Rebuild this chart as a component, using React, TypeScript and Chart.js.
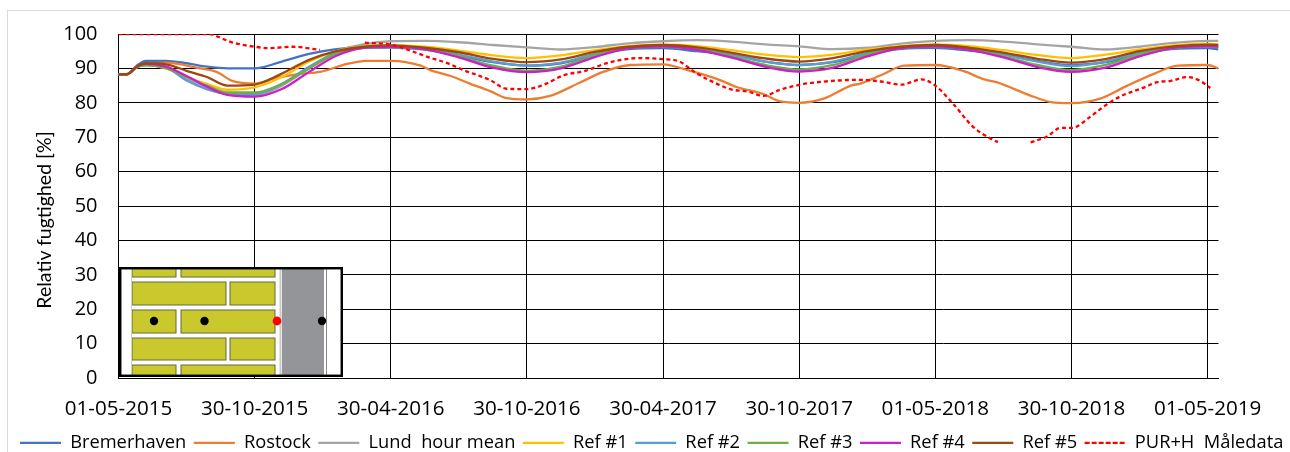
import React, { useEffect, useRef } from "react";
import { Chart, registerables } from "chart.js";

Chart.register(...registerables);

const FONT = '"Open Sans", sans-serif';

const tickLabels = ["01-05-2015", "30-10-2015", "30-04-2016", "30-10-2016", "30-04-2017", "30-10-2017", "01-05-2018", "30-10-2018", "01-05-2019"];

const T = [0, 0.06, 0.14, 0.2, 0.35, 0.5, 0.65, 0.8, 1, 1.2, 1.4, 1.6, 1.8, 2, 2.25, 2.5, 2.75, 3, 3.25, 3.5, 3.75, 4, 4.25, 4.5, 4.75, 5, 5.25, 5.5, 5.75, 6, 6.25, 6.5, 6.75, 7, 7.25, 7.5, 7.75, 8, 8.08];

const bremerhaven = [88.3, 88.3, 91, 92.2, 92.2, 91.5, 90.5, 90, 90, 92, 94.2, 95.6, 96.2, 96.1, 95.5, 93.8, 91.8, 90.8, 91.5, 94, 95.6, 95.9, 95, 94, 92, 91, 91.8, 94.2, 95.7, 96, 95.2, 94.2, 92.2, 91, 91.8, 94, 95.7, 95.9, 95.5];
const lund = [88.3, 88.3, 90.5, 91, 90.5, 87, 84, 82.5, 82, 85, 90, 95, 97, 97.9, 98, 97.6, 96.8, 96.1, 95.5, 96.2, 97.3, 97.9, 98.2, 97.8, 97, 96.4, 95.6, 96, 97.2, 98, 98.2, 97.8, 97, 96.3, 95.5, 96.3, 97.4, 98, 98];
const ref1 = [88.3, 88.3, 90.5, 91, 90, 87.5, 85.5, 83.8, 84.5, 87.5, 92, 95, 96.4, 96.7, 96.3, 95.2, 93.8, 93, 93.8, 95.3, 96.5, 96.9, 96.5, 95.3, 94, 93.3, 94, 95.5, 96.5, 97, 96.5, 95.3, 93.9, 93, 94, 95.5, 96.7, 97.2, 97];
const ref2 = [88.3, 88.3, 90.5, 91, 90.3, 86.5, 84, 82.7, 82.5, 85.5, 90.5, 94.5, 96, 96, 95.8, 94, 92, 90.8, 91.7, 94.2, 96, 96.3, 95.6, 94, 92, 91, 92, 94.5, 96, 96.3, 95.6, 94, 92, 90.7, 92, 94.6, 96, 96.4, 96.2];
const ref3 = [88.3, 88.3, 90.5, 91, 90, 87.5, 85, 83, 83, 85.5, 90, 94.3, 96, 96.3, 95.7, 93.5, 90.8, 89.3, 90.5, 93.8, 96, 96.4, 95.5, 93.5, 91, 89.7, 91, 94, 96, 96.4, 95.5, 93.5, 91, 89.5, 91, 94, 96, 96.4, 96.3];
const ref4 = [88.3, 88.3, 90.7, 91.3, 90.5, 87.8, 84.7, 82.3, 81.8, 84, 89, 93.7, 96, 96.3, 95.6, 93.2, 90.2, 88.9, 90, 93.3, 95.9, 96.4, 95.4, 93.2, 90.5, 89.1, 90.2, 93.5, 95.9, 96.4, 95.4, 93.2, 90.4, 89, 90.2, 93.5, 96, 96.5, 96.4];
const ref5 = [88.3, 88.3, 90.7, 91.5, 91.2, 89.3, 87.5, 85, 85.3, 88.5, 92.5, 95, 96.3, 96.7, 96, 94.7, 92.8, 91.8, 92.6, 94.8, 96.3, 96.8, 96.1, 94.6, 92.9, 92, 93, 95, 96.3, 96.8, 96, 94.6, 92.8, 91.7, 92.7, 95, 96.4, 96.9, 96.8];

const rostockT = [0, 0.06, 0.14, 0.2, 0.35, 0.6, 0.72, 0.84, 1, 1.14, 1.33, 1.48, 1.68, 1.82, 2, 2.22, 2.29, 2.44, 2.58, 2.73, 2.85, 3, 3.17, 3.39, 3.56, 3.76, 4, 4.18, 4.4, 4.54, 4.74, 4.86, 5, 5.18, 5.38, 5.45, 5.6, 5.77, 6, 6.21, 6.36, 6.45, 6.68, 6.85, 7, 7.21, 7.41, 7.61, 7.78, 8, 8.08];
const rostock = [88.3, 88.3, 90.5, 91.2, 91.7, 90, 89, 86.3, 85.6, 87, 88.4, 89, 91.3, 92.2, 92.2, 90.8, 89.5, 87.8, 85.6, 83.4, 81.4, 81, 82, 85.9, 89, 91, 91.2, 89.5, 86.9, 84.6, 82.5, 80.4, 80, 81.2, 85, 85.6, 88, 90.8, 91, 89.2, 86.8, 86, 82.4, 80.2, 79.9, 81.2, 85, 88.5, 90.8, 91, 90];

const purT = [0, 0.65, 0.84, 1, 1.11, 1.28, 1.48, 1.49, 1.81, 2, 2.29, 2.41, 2.535, 2.73, 2.85, 3, 3.12, 3.27, 3.42, 3.61, 3.83, 4, 4.12, 4.23, 4.37, 4.5, 4.62, 4.74, 4.86, 5.01, 5.11, 5.45, 5.6, 5.75, 5.9, 6.0, 6.14, 6.27, 6.41, 6.46, 6.5, 6.7, 6.82, 6.92, 7, 7.14, 7.24, 7.36, 7.53, 7.63, 7.73, 7.85, 7.94, 8.02];
const pur = [100, 100, 97.5, 96.3, 95.9, 96.3, 95.4, null, 97.5, 96.9, 93.1, 91.6, 89.5, 86.6, 84.1, 84, 85.2, 88, 89.2, 91.8, 93, 92.7, 92, 89, 86, 83.9, 83.3, 82, 83.8, 85.3, 85.9, 86.7, 86.2, 85.3, 86.8, 85, 79.3, 73.3, 69.5, 68.6, null, 68.5, 70.2, 72.7, 72.7, 76, 79, 81.9, 84.4, 86, 86.4, 87.5, 86.5, 84.3];

const zip = (xs: number[], ys: (number | null)[]) => xs.map((x, i) => ({ x, y: ys[i] }));

const seriesList = [
  { label: "Bremerhaven", xs: T, ys: bremerhaven, color: "#4472C4" },
  { label: "Rostock", xs: rostockT, ys: rostock, color: "#ED7D31" },
  { label: "Lund  hour mean", xs: T, ys: lund, color: "#A5A5A5" },
  { label: "Ref #1", xs: T, ys: ref1, color: "#FFC000" },
  { label: "Ref #2", xs: T, ys: ref2, color: "#5B9BD5" },
  { label: "Ref #3", xs: T, ys: ref3, color: "#70AD47" },
  { label: "Ref #4", xs: T, ys: ref4, color: "#CC1FCC" },
  { label: "Ref #5", xs: T, ys: ref5, color: "#9E480E" },
  { label: "PUR+H  Måledata", xs: purT, ys: pur, color: "#FF0000", dash: [4, 3] },
];

const BRICK = "#C9C92E";

function Brick({ x, y, w, h }: { x: number; y: number; w: number; h: number }) {
  return <rect x={x} y={y} width={w} height={h} fill={BRICK} stroke="#66663c" strokeWidth={1} />;
}

function Inset() {
  return (
    <svg width={224} height={110} viewBox="119 267 224 110" style={{ position: "absolute", left: 119, top: 267, display: "block" }}>
      <rect x={119} y={267} width={224} height={110} fill="#fff" />
      <Brick x={132} y={266} w={44} h={11} />
      <Brick x={181} y={266} w={94} h={11} />
      <Brick x={132} y={282} w={94} h={23} />
      <Brick x={230} y={282} w={45} h={23} />
      <Brick x={132} y={310} w={44} h={23} />
      <Brick x={181} y={310} w={94} h={23} />
      <Brick x={132} y={338} w={94} h={22} />
      <Brick x={230} y={338} w={45} h={22} />
      <Brick x={132} y={365} w={44} h={13} />
      <Brick x={181} y={365} w={94} h={13} />
      <line x1={131.5} y1={267} x2={131.5} y2={377} stroke="#d0d0d0" />
      <line x1={280.5} y1={267} x2={280.5} y2={377} stroke="#c8c8c8" strokeWidth={2} />
      <rect x={282} y={267} width={42} height={110} fill="#939598" />
      <line x1={326.5} y1={267} x2={326.5} y2={377} stroke="#8a8a8a" />
      <circle cx={154} cy={321} r={4.2} fill="#000" />
      <circle cx={204.5} cy={321} r={4.2} fill="#000" />
      <circle cx={277} cy={321} r={4.4} fill="#FF0000" />
      <circle cx={322} cy={321} r={4.2} fill="#000" />
      <rect x={120.2} y={268.2} width={221.6} height={107.6} fill="none" stroke="#000" strokeWidth={2.5} />
    </svg>
  );
}

export default function App() {
  const ref = useRef<HTMLCanvasElement>(null);
  useEffect(() => {
    const chart = new Chart(ref.current!, {
      type: "line",
      data: {
        datasets: seriesList.map((s, i) => ({
          label: s.label,
          data: zip(s.xs, s.ys),
          borderColor: s.color,
          backgroundColor: s.color,
          borderWidth: 2.3,
          borderDash: s.dash || [],
          pointRadius: 0,
          cubicInterpolationMode: "monotone",
          spanGaps: false,
          order: seriesList.length - i,
        })),
      },
      options: {
        animation: false,
        responsive: false,
        parsing: { xAxisKey: "x", yAxisKey: "y" },
        layout: { padding: { left: 12.5, right: -15, top: 34, bottom: -10 } },
        plugins: {
          tooltip: { enabled: false },
          title: { display: false },
          legend: {
            position: "bottom",
            align: "start",
            labels: {
              boxWidth: 41,
              boxHeight: 0,
              padding: 7.5,
              color: "#000",
              font: { family: FONT, size: 18.3 },
              sort: (a: any, b: any) => a.datasetIndex - b.datasetIndex,
            },
          },
        },
        scales: {
          x: {
            type: "linear",
            min: 0,
            max: 8.08,
            afterFit: (s: any) => { s.height = 48; },
            grid: { color: "#000", lineWidth: 1, drawTicks: false },
            border: { color: "#000", width: 1 },
            ticks: {
              stepSize: 1,
              includeBounds: false,
              autoSkip: false,
              maxRotation: 0,
              padding: 19,
              color: "#000",
              font: { family: FONT, size: 20.6 },
              callback: (v: any) => tickLabels[Math.round(Number(v))],
            },
          },
          y: {
            type: "linear",
            min: 0,
            max: 100,
            afterFit: (s: any) => { s.width = 106; },
            grid: { color: "#000", lineWidth: 1, drawTicks: false },
            border: { color: "#000", width: 1 },
            ticks: {
              stepSize: 10,
              padding: 21,
              color: "#000",
              font: { family: FONT, size: 20 },
            },
          },
          yRight: {
            type: "linear",
            position: "right",
            min: 0,
            max: 100,
            afterFit: (s: any) => { s.width = 86.5; },
            grid: { display: false },
            border: { display: false },
            ticks: { display: false },
          },
        },
      },
    } as any);
    return () => chart.destroy();
  }, []);

  return (
    <div style={{ position: "absolute", left: 0, top: 0, width: 1290, height: 452, overflow: "hidden", background: "#fff" }}>
      <canvas ref={ref} width={1290} height={452} style={{ position: "absolute", left: 0, top: 0, width: 1290, height: 452 }} />
      <div style={{ position: "absolute", left: 7, top: 10, width: 1400, height: 600, border: "1px solid #d9d9d9", boxSizing: "border-box", pointerEvents: "none" }} />
      <div style={{ position: "absolute", left: 43, top: 220, transform: "translate(-50%,-50%) rotate(-90deg)", whiteSpace: "nowrap", fontFamily: '"Lato", sans-serif', fontSize: 19.5, color: "#000" }}>
        Relativ fugtighed [%]
      </div>
      <Inset />
    </div>
  );
}
